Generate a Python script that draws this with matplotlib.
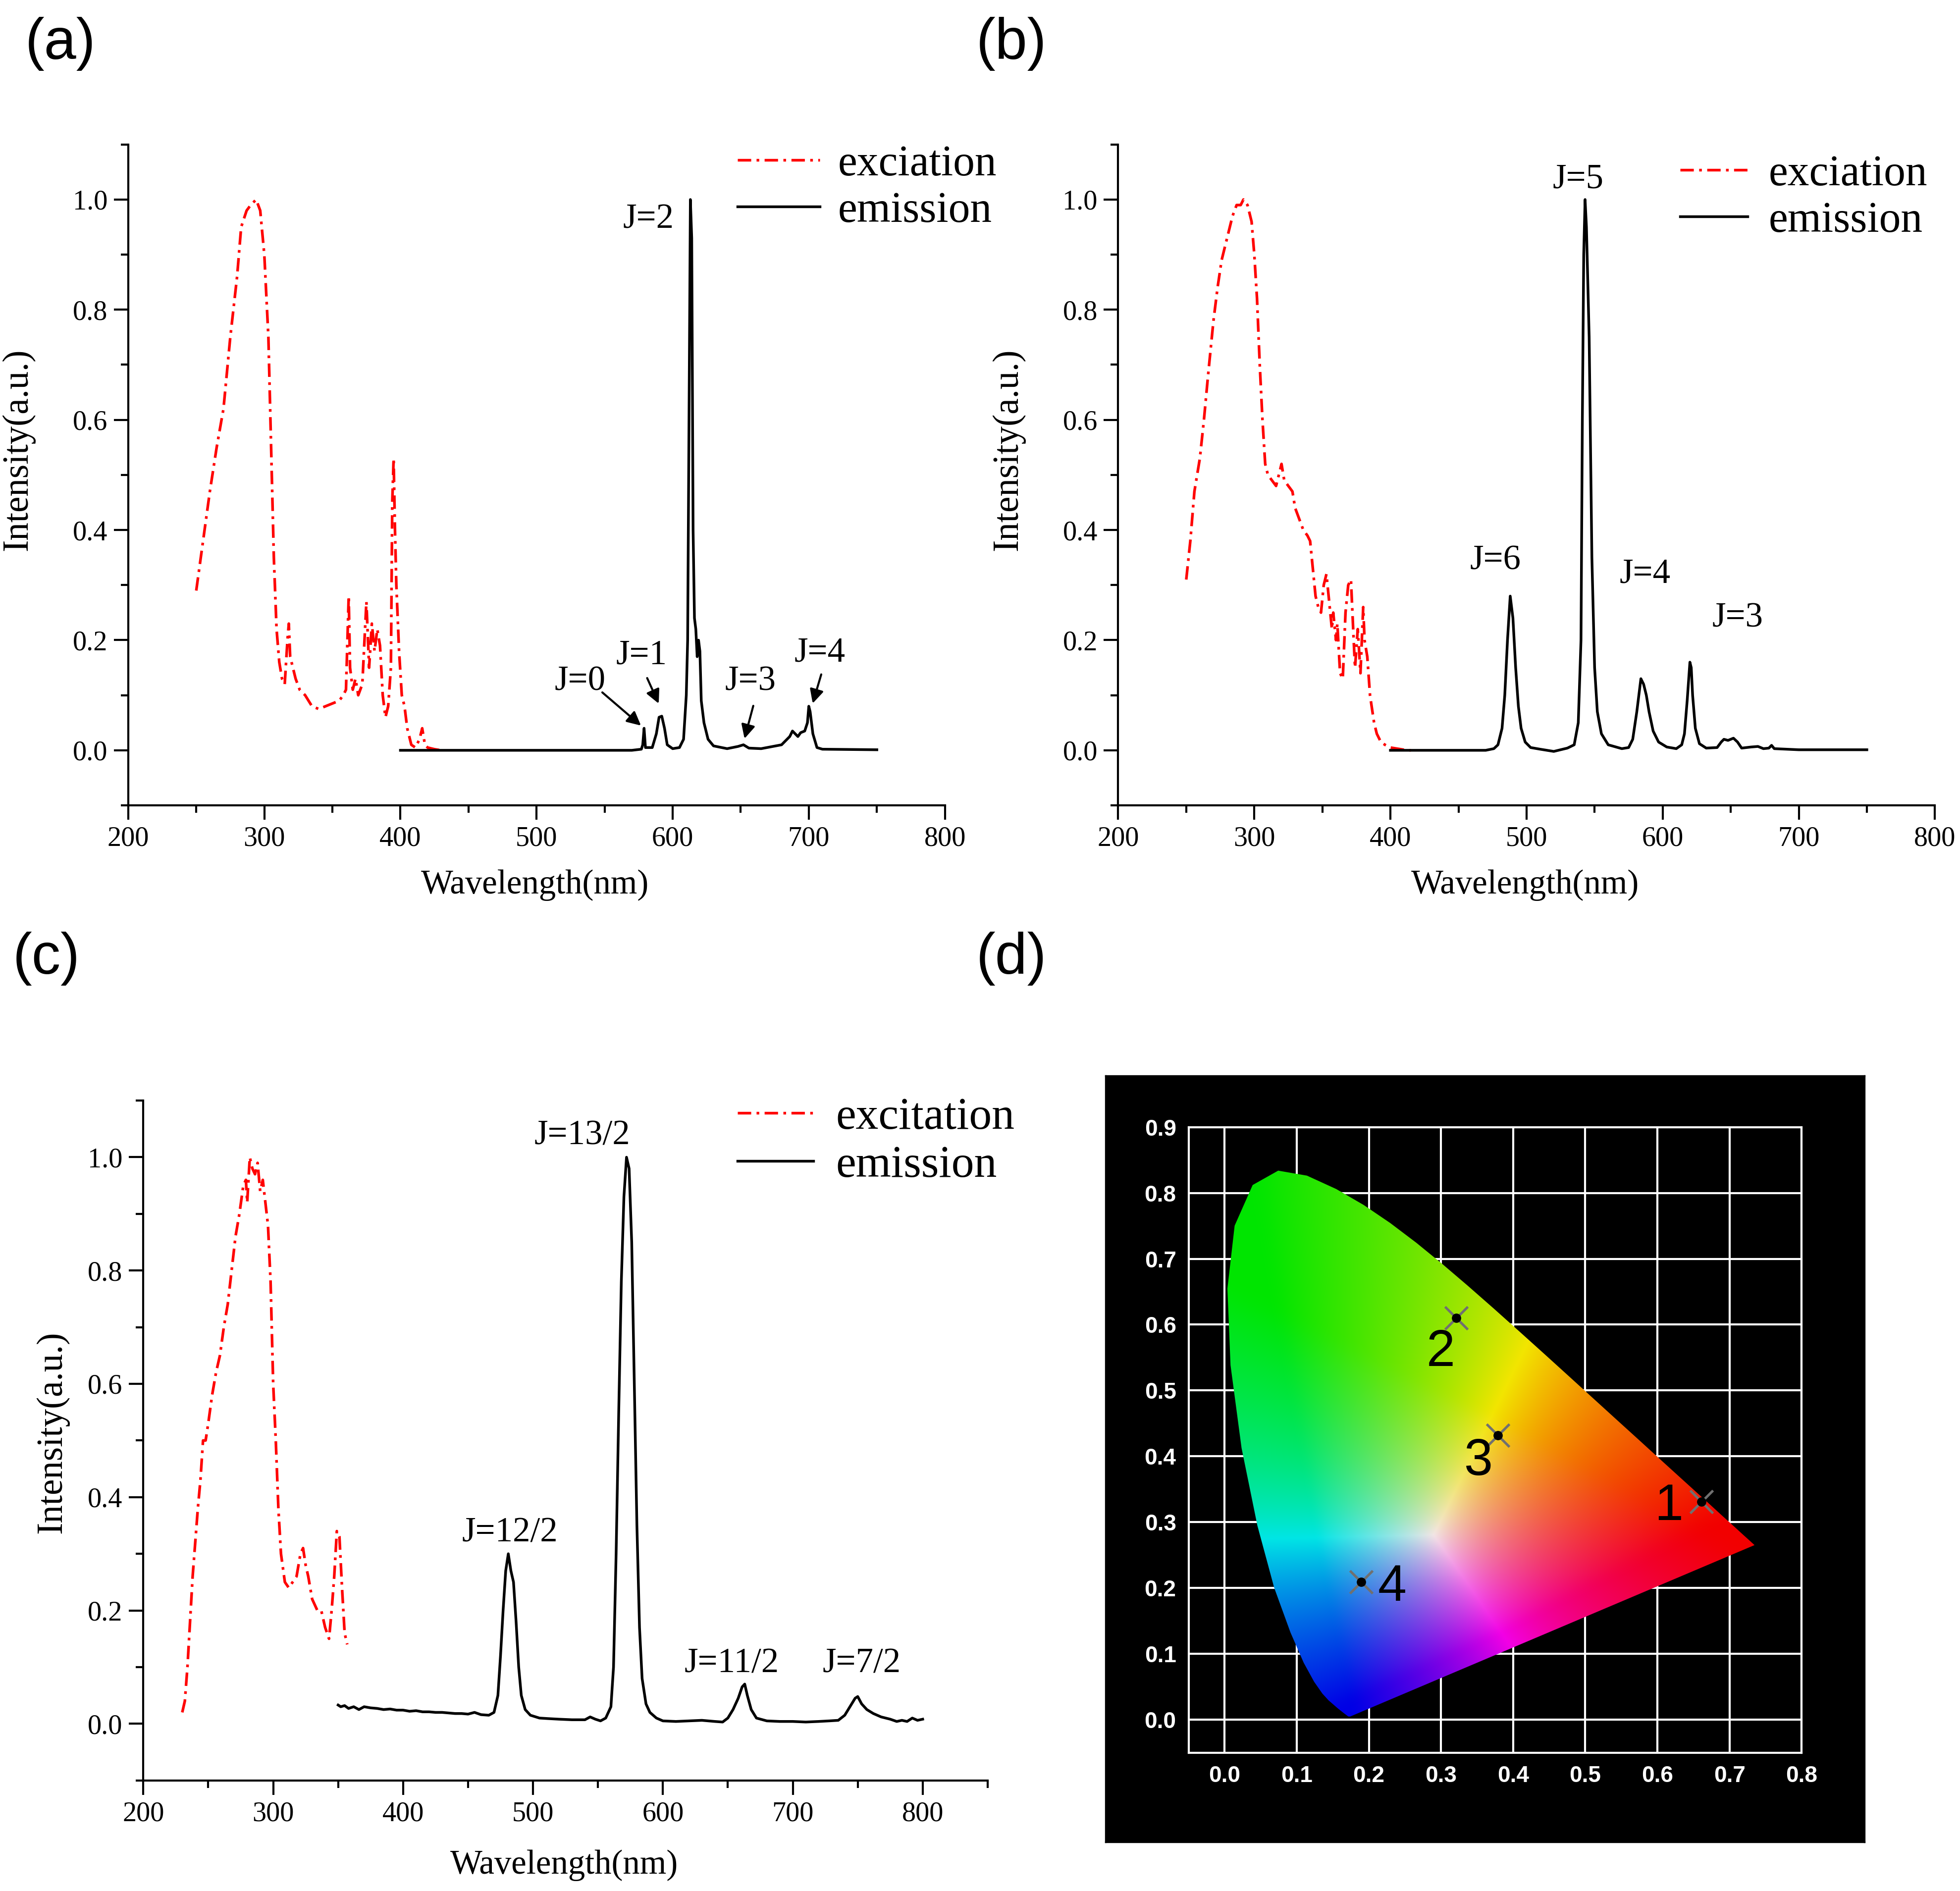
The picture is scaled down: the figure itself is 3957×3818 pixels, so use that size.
import numpy as np
import matplotlib
matplotlib.use('Agg')
import matplotlib.pyplot as plt
from matplotlib.ticker import MultipleLocator, FormatStrFormatter
from matplotlib.patches import Polygon

plt.rcParams['font.family'] = ['Liberation Serif', 'DejaVu Serif']

#%% data
# (a) Eu3+ : excitation / emission
a_ex_wl = [250, 255, 260, 265, 270, 275, 280, 283, 287, 290, 294, 297, 300, 303, 305, 307, 309, 311,
           313, 315, 317, 318, 319, 321, 323, 326, 330, 335, 340, 345, 350, 355, 358, 360, 362, 363,
           365, 367, 369, 372, 375, 377, 379, 381, 383, 385, 387, 389, 391, 393, 394, 395, 396, 397,
           399, 401, 403, 405, 408, 411, 414, 416, 418, 420, 425, 430]
a_ex_int = [0.29, 0.38, 0.47, 0.55, 0.62, 0.75, 0.86, 0.95, 0.98, 0.99, 1.0, 0.98, 0.90, 0.75, 0.55, 0.35, 0.22, 0.16,
            0.13, 0.12, 0.20, 0.23, 0.17, 0.15, 0.13, 0.11, 0.10, 0.08, 0.075, 0.08, 0.085, 0.09, 0.10, 0.11, 0.28, 0.15,
            0.11, 0.13, 0.10, 0.12, 0.27, 0.15, 0.23, 0.18, 0.22, 0.19, 0.10, 0.06, 0.08, 0.15, 0.45, 0.53, 0.40, 0.30,
            0.18, 0.10, 0.08, 0.04, 0.01, 0.005, 0.02, 0.04, 0.01, 0.005, 0.002, 0.0]
a_em_wl = [400, 570, 577, 578, 579, 580, 585, 588, 590, 592, 594, 596, 600, 605, 608, 610, 611, 612, 613,
           614, 615, 616, 617, 618, 619, 620, 621, 623, 626, 630, 640, 648, 652, 656, 665, 680, 686, 688,
           690, 692, 694, 697, 699, 700, 701, 703, 706, 710, 750]
a_em_int = [0.0, 0.0, 0.002, 0.01, 0.04, 0.005, 0.005, 0.03, 0.06, 0.062, 0.04, 0.01, 0.003, 0.005, 0.02, 0.1, 0.2, 0.6, 1.0,
            0.93, 0.4, 0.24, 0.22, 0.17, 0.2, 0.18, 0.09, 0.05, 0.02, 0.008, 0.003, 0.007, 0.01, 0.004, 0.003, 0.01, 0.025, 0.035,
            0.03, 0.025, 0.032, 0.035, 0.05, 0.08, 0.07, 0.03, 0.005, 0.002, 0.001]
a_labels = ['J=0', 'J=1', 'J=2', 'J=3', 'J=4']
a_label_x = [532, 577, 582, 657, 708]
a_label_y = [0.125, 0.173, 0.964, 0.125, 0.177]
a_arrow_from = [(546, 0.11), (580, 0.138), (660, 0.088), (710, 0.145)]
a_arrow_to = [(579, 0.04), (591, 0.078), (652, 0.014), (702, 0.078)]

# (b) Tb3+
b_ex_wl = [250, 253, 256, 260, 263, 266, 270, 273, 276, 280, 284, 287, 290, 292, 295, 298, 300, 302, 304,
           306, 308, 310, 313, 316, 318, 320, 322, 325, 328, 330, 333, 336, 339, 341, 343, 345, 347, 349,
           351, 353, 355, 357, 358, 360, 361, 363, 365, 367, 369, 371, 373, 374, 376, 378, 380, 381, 383,
           385, 388, 390, 393, 396, 400, 405, 410, 415]
b_ex_int = [0.31, 0.38, 0.47, 0.53, 0.60, 0.68, 0.78, 0.84, 0.89, 0.93, 0.97, 0.99, 0.99, 1.0, 0.99, 0.96, 0.90, 0.82, 0.70,
            0.60, 0.52, 0.50, 0.49, 0.48, 0.50, 0.52, 0.49, 0.48, 0.47, 0.44, 0.42, 0.40, 0.39, 0.38, 0.33, 0.28, 0.26, 0.25,
            0.30, 0.32, 0.27, 0.22, 0.25, 0.20, 0.23, 0.14, 0.13, 0.25, 0.30, 0.31, 0.20, 0.15, 0.22, 0.14, 0.26, 0.20, 0.17,
            0.10, 0.05, 0.03, 0.015, 0.01, 0.005, 0.003, 0.001, 0.0]
b_em_wl = [400, 470, 476, 479, 482, 484, 486, 488, 490, 492, 494, 496, 499, 503, 510, 520, 530, 535, 538,
           540, 541, 542, 543, 544, 546, 547, 548, 550, 552, 555, 560, 570, 575, 578, 581, 584, 586, 588,
           590, 593, 597, 603, 610, 614, 616, 618, 620, 621, 622, 624, 627, 632, 640, 643, 645, 648, 652,
           655, 658, 665, 670, 674, 678, 680, 682, 700, 750]
b_em_int = [0.0, 0.0, 0.003, 0.01, 0.04, 0.10, 0.20, 0.28, 0.24, 0.15, 0.08, 0.04, 0.015, 0.005, 0.002, -0.002, 0.004, 0.01, 0.05,
            0.20, 0.60, 0.90, 1.0, 0.95, 0.75, 0.55, 0.35, 0.15, 0.07, 0.03, 0.01, 0.003, 0.005, 0.02, 0.07, 0.13, 0.12, 0.10,
            0.07, 0.035, 0.015, 0.006, 0.003, 0.01, 0.03, 0.09, 0.16, 0.15, 0.10, 0.04, 0.012, 0.004, 0.005, 0.015, 0.02, 0.018, 0.022,
            0.015, 0.004, 0.006, 0.007, 0.003, 0.004, 0.009, 0.003, 0.001, 0.001]
b_labels = ['J=5', 'J=6', 'J=4', 'J=3']
b_label_x = [538, 477, 587, 655]
b_label_y = [1.037, 0.344, 0.32, 0.24]

# (c) Dy3+
c_ex_wl = [230, 232, 234, 236, 238, 240, 242, 244, 246, 248, 250, 253, 256, 259, 262, 265, 268, 271, 274,
           277, 279, 280, 282, 284, 286, 288, 290, 292, 294, 296, 298, 300, 302, 304, 306, 309, 312, 315,
           318, 321, 323, 325, 327, 330, 334, 337, 340, 343, 345, 347, 349, 351, 353, 355, 357]
c_ex_int = [0.02, 0.04, 0.10, 0.18, 0.26, 0.32, 0.38, 0.43, 0.50, 0.50, 0.53, 0.58, 0.62, 0.65, 0.70, 0.74, 0.80, 0.86, 0.90,
            0.95, 0.96, 0.92, 1.0, 0.98, 0.97, 0.99, 0.94, 0.96, 0.92, 0.88, 0.78, 0.60, 0.50, 0.38, 0.30, 0.25, 0.24, 0.25,
            0.26, 0.30, 0.31, 0.28, 0.26, 0.22, 0.20, 0.20, 0.17, 0.15, 0.20, 0.26, 0.34, 0.33, 0.24, 0.16, 0.14]
c_em_wl = [350, 352, 355, 358, 362, 366, 370, 375, 380, 385, 390, 395, 400, 405, 410, 415, 420, 425, 430,
           435, 440, 445, 450, 455, 460, 466, 470, 473, 475, 477, 479, 481, 483, 485, 487, 489, 491, 494,
           498, 505, 512, 520, 530, 540, 544, 548, 552, 556, 560, 562, 564, 566, 568, 570, 572, 574, 576,
           578, 580, 582, 584, 587, 590, 595, 600, 610, 620, 630, 640, 646, 650, 654, 658, 661, 663, 665,
           668, 672, 680, 690, 700, 710, 720, 728, 735, 740, 744, 748, 750, 753, 757, 762, 768, 775, 780,
           784, 788, 792, 796, 800]
c_em_int = [0.033, 0.030, 0.032, 0.027, 0.030, 0.025, 0.030, 0.028, 0.027, 0.025, 0.026, 0.024, 0.024, 0.022, 0.023, 0.021, 0.021, 0.020, 0.020,
            0.019, 0.018, 0.018, 0.017, 0.020, 0.016, 0.015, 0.020, 0.05, 0.12, 0.20, 0.27, 0.30, 0.27, 0.25, 0.18, 0.10, 0.05, 0.025,
            0.015, 0.010, 0.009, 0.008, 0.007, 0.007, 0.012, 0.008, 0.005, 0.010, 0.03, 0.10, 0.30, 0.55, 0.78, 0.93, 1.0, 0.98, 0.85,
            0.60, 0.35, 0.17, 0.08, 0.035, 0.02, 0.010, 0.005, 0.004, 0.005, 0.006, 0.004, 0.003, 0.010, 0.025, 0.045, 0.065, 0.07, 0.05,
            0.025, 0.010, 0.005, 0.004, 0.004, 0.003, 0.004, 0.005, 0.006, 0.015, 0.03, 0.045, 0.048, 0.035, 0.025, 0.018, 0.012, 0.008, 0.004,
            0.006, 0.004, 0.010, 0.006, 0.008]
c_labels = ['J=13/2', 'J=12/2', 'J=11/2', 'J=7/2']
c_label_x = [538, 482, 653, 753]
c_label_y = [1.038, 0.337, 0.106, 0.106]

# (d) CIE 1931 spectral locus and colour coordinates
cie_x = [0.1741, 0.1714, 0.1644, 0.1566, 0.1440, 0.1355, 0.1241, 0.1096, 0.0913, 0.0687, 0.0454, 0.0235,
         0.0082, 0.0039, 0.0139, 0.0389, 0.0743, 0.1142, 0.1547, 0.1929, 0.2296, 0.2658, 0.3016, 0.3373,
         0.3731, 0.4087, 0.4441, 0.4788, 0.5125, 0.5448, 0.5752, 0.6029, 0.6270, 0.6658, 0.6915, 0.7079,
         0.7190, 0.7260, 0.7300, 0.7334, 0.7347]
cie_y = [0.0050, 0.0051, 0.0109, 0.0177, 0.0297, 0.0399, 0.0578, 0.0868, 0.1327, 0.2007, 0.2950, 0.4127,
         0.5384, 0.6548, 0.7502, 0.8120, 0.8338, 0.8262, 0.8059, 0.7816, 0.7543, 0.7243, 0.6923, 0.6589,
         0.6245, 0.5896, 0.5547, 0.5202, 0.4866, 0.4544, 0.4242, 0.3965, 0.3725, 0.3340, 0.3083, 0.2920,
         0.2809, 0.2740, 0.2700, 0.2666, 0.2653]
pt_x = [0.661, 0.321, 0.379, 0.189]
pt_y = [0.331, 0.610, 0.432, 0.209]
pt_names = ['1', '2', '3', '4']
pt_label_x = [0.616, 0.300, 0.352, 0.232]
pt_label_y = [0.323, 0.557, 0.392, 0.201]

#%% figure
fig = plt.figure(figsize=(3957 / 300, 3818 / 300), dpi=300)


def spectrum(rect, ex_wl, ex_int, em_wl, em_int, ex_name, xmax, leg):
    ax = fig.add_axes(rect)
    ax.plot(ex_wl, ex_int, color='red', lw=1.3, ls=(0, (5, 2, 1, 2)), label=ex_name)
    ax.plot(em_wl, em_int, color='black', lw=1.3, label='emission')
    ax.set_xlim(200, xmax)
    ax.set_ylim(-0.1, 1.1)
    for s in ['top', 'right']:
        ax.spines[s].set_visible(False)
    for s in ['left', 'bottom']:
        ax.spines[s].set_linewidth(1.0)
    ax.xaxis.set_major_locator(MultipleLocator(100))
    ax.xaxis.set_minor_locator(MultipleLocator(50))
    ax.yaxis.set_major_locator(MultipleLocator(0.2))
    ax.yaxis.set_minor_locator(MultipleLocator(0.1))
    ax.yaxis.set_major_formatter(FormatStrFormatter('%.1f'))
    ax.tick_params(which='major', length=7, width=1.0, labelsize=13.5, pad=3)
    ax.tick_params(which='minor', length=3.5, width=1.0)
    ax.set_xlabel('Wavelength(nm)', fontsize=16.5)
    ax.set_ylabel('Intensity(a.u.)', fontsize=17.5)
    ax.legend(loc='upper left', bbox_to_anchor=leg['anchor'], frameon=False, fontsize=leg['size'],
              handlelength=leg['hl'], handletextpad=leg['pad'], labelspacing=0.15,
              borderpad=0, borderaxespad=0)
    return ax


ax_a = spectrum([0.0654, 0.5741, 0.4167, 0.3495], a_ex_wl, a_ex_int, a_em_wl, a_em_int, 'exciation', 800,
                dict(anchor=(0.746, 1.0), size=21, hl=1.9, pad=0.42))
for lab, x, y in zip(a_labels, a_label_x, a_label_y):
    ax_a.text(x, y, lab, fontsize=17, ha='center', va='center')
for p0, p1 in zip(a_arrow_from, a_arrow_to):
    ax_a.annotate('', xy=p1, xytext=p0,
                  arrowprops=dict(arrowstyle='-|>', color='black', lw=1.0, mutation_scale=14))
ax_a.xaxis.set_label_coords(0.498, -0.097)
ax_a.yaxis.set_label_coords(-0.114, 0.538)

ax_b = spectrum([0.5705, 0.5741, 0.4167, 0.3495], b_ex_wl, b_ex_int, b_em_wl, b_em_int, 'exciation', 800,
                dict(anchor=(0.688, 0.985), size=21, hl=1.56, pad=0.48))
for lab, x, y in zip(b_labels, b_label_x, b_label_y):
    ax_b.text(x, y, lab, fontsize=17, ha='center', va='center')
ax_b.xaxis.set_label_coords(0.498, -0.097)
ax_b.yaxis.set_label_coords(-0.114, 0.538)

ax_c = spectrum([0.0731, 0.0585, 0.4308, 0.3595], c_ex_wl, c_ex_int, c_em_wl, c_em_int, 'excitation', 850,
                dict(anchor=(0.704, 1.005), size=22, hl=1.66, pad=0.5))
for lab, x, y in zip(c_labels, c_label_x, c_label_y):
    ax_c.text(x, y, lab, fontsize=17, ha='center', va='center')
ax_c.xaxis.set_label_coords(0.4985, -0.102)
ax_c.yaxis.set_label_coords(-0.088, 0.512)

#%% (d) chromaticity diagram
ax_box = fig.add_axes([0.5641, 0.0259, 0.3872, 0.4053])
ax_box.set_facecolor('black')
ax_box.set_xticks([])
ax_box.set_yticks([])

ax_d = fig.add_axes([0.6064, 0.0731, 0.3128, 0.3309])
ax_d.set_facecolor('black')


def xyz_of(x, y):
    return np.array([x / y, 1.0, (1 - x - y) / y])


# wide-gamut primaries so the horseshoe fills with saturated colour like the original
prim = np.column_stack([xyz_of(0.70, 0.29), xyz_of(0.05, 0.66), xyz_of(0.17, 0.01)])
scale = np.linalg.solve(prim, xyz_of(0.29, 0.28))
to_rgb = np.linalg.inv(prim * scale)

gx = np.linspace(0.0, 0.8, 500)
gy = np.linspace(0.0, 0.9, 560)
GX, GY = np.meshgrid(gx, gy)
ys = np.maximum(GY, 1e-3)
XYZ = np.stack([GX / ys, np.ones_like(GX), (1 - GX - GY) / ys], axis=-1)
rgb = np.clip(XYZ @ to_rgb.T, 0, None)
rgb = rgb / np.maximum(rgb.max(axis=-1, keepdims=True), 1e-6)
rgb = rgb ** 2.0
rgb = np.where(rgb <= 0.0031308, 12.92 * rgb, 1.055 * rgb ** (1 / 2.4) - 0.055)
rgb = np.clip(rgb, 0, 1) * np.array([0.95, 0.9, 0.9])

img = ax_d.imshow(rgb, extent=(0, 0.8, 0, 0.9), origin='lower', aspect='auto',
                  interpolation='bilinear', zorder=1)
locus = Polygon(np.column_stack([cie_x, cie_y]), closed=True, facecolor='none', edgecolor='none',
                transform=ax_d.transData)
ax_d.add_patch(locus)
img.set_clip_path(locus)

ax_d.set_xlim(-0.05, 0.8)
ax_d.set_ylim(-0.05, 0.9)
xt = np.round(np.arange(0, 0.81, 0.1), 1)
yt = np.round(np.arange(0, 0.91, 0.1), 1)
ax_d.set_xticks(xt, labels=[f'{v:.1f}' for v in xt], fontfamily='Liberation Sans',
                fontweight='bold', fontsize=11, color='white')
ax_d.set_yticks(yt, labels=[f'{v:.1f}' for v in yt], fontfamily='Liberation Sans',
                fontweight='bold', fontsize=11, color='white')
ax_d.tick_params(length=0, pad=6)
ax_d.grid(True, color='white', lw=1.0)
ax_d.set_axisbelow(True)
for sp in ax_d.spines.values():
    sp.set_color('white')
    sp.set_linewidth(1.0)

ax_d.plot(pt_x, pt_y, ls='none', marker='x', ms=11, mew=1.2, color='#707070', zorder=3)
ax_d.plot(pt_x, pt_y, ls='none', marker='o', ms=3.5, color='black', zorder=4)
for lab, x, y in zip(pt_names, pt_label_x, pt_label_y):
    ax_d.text(x, y, lab, fontsize=25, family='Liberation Sans', ha='center', va='center', zorder=5)

#%% panel letters
for lab, x, y in [('(a)', 0.0128, 0.9767), ('(b)', 0.498, 0.9767), ('(c)', 0.0064, 0.493), ('(d)', 0.498, 0.493)]:
    fig.text(x, y, lab, fontsize=28, family='Liberation Sans', ha='left', va='center')

fig.savefig('out.png', dpi=300)
